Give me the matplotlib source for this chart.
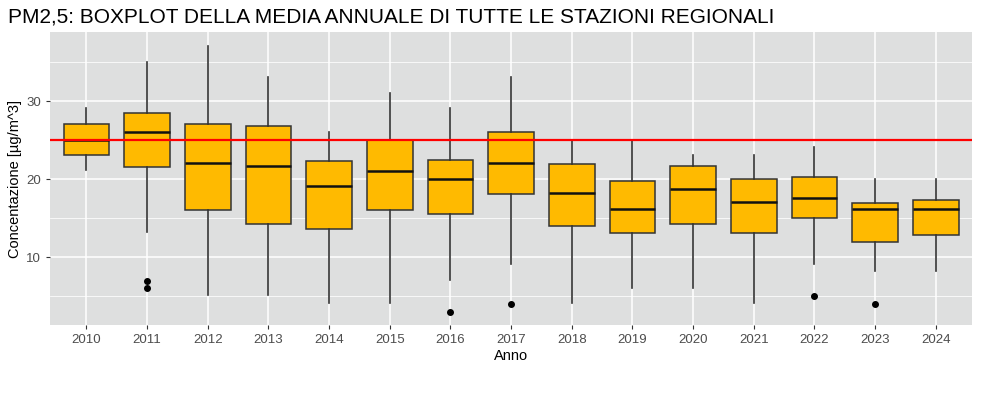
import matplotlib
matplotlib.use("Agg")
import matplotlib.pyplot as plt
import numpy as np

plt.rcParams['font.family'] = ['Liberation Sans', 'DejaVu Sans']

# statistiche dei boxplot
anni = ['2010', '2011', '2012', '2013', '2014', '2015', '2016', '2017',
        '2018', '2019', '2020', '2021', '2022', '2023', '2024']
whislo = [21.2, 13.2, 5.1, 5.1, 4.1, 4.1, 7.1, 9.1, 4.1, 6.1, 6.1, 4.1, 9.1, 8.2, 8.2]
q1 = [23.1, 21.6, 16.1, 14.3, 13.6, 16.1, 15.6, 18.1, 14.0, 13.1, 14.3, 13.1, 15.0, 12.0, 12.8]
mediana = [25.0, 26.1, 22.1, 21.7, 19.1, 21.1, 20.1, 22.1, 18.2, 16.2, 18.7, 17.1, 17.6, 16.2, 16.2]
q3 = [27.1, 28.5, 27.1, 26.9, 22.3, 25.1, 22.5, 26.1, 22.0, 19.8, 21.7, 20.0, 20.3, 17.0, 17.3]
whishi = [29.1, 35.1, 37.1, 33.1, 26.1, 31.1, 29.1, 33.1, 25.1, 25.1, 23.1, 23.1, 24.1, 20.0, 20.0]
outliers = [[], [7.0, 6.0], [], [], [], [], [3.0], [4.0], [], [], [], [], [5.0], [4.0], []]
limite = 25

stats = []
for i in range(len(anni)):
    stats.append(dict(med=mediana[i], q1=q1[i], q3=q3[i],
                      whislo=whislo[i], whishi=whishi[i], fliers=outliers[i]))

fig = plt.figure(figsize=(9.81, 3.95), dpi=100)
ax = fig.add_axes([0.051, 0.177, 0.940, 0.742])
ax.set_facecolor('#DEDFDF')

pos = np.arange(1, len(anni) + 1)
ax.bxp(stats, positions=pos, widths=0.75, patch_artist=True, showcaps=False,
       boxprops=dict(facecolor='#FFBA00', edgecolor='#333333', linewidth=1.1),
       medianprops=dict(color='#111111', linewidth=1.8),
       whiskerprops=dict(color='#333333', linewidth=1.2),
       flierprops=dict(marker='o', markerfacecolor='black', markeredgecolor='black',
                       markersize=4),
       zorder=3)

ax.axhline(limite, color='#FF0000', linewidth=1.6, zorder=4)

ax.set_xlim(0.4, len(anni) + 0.6)
ax.set_ylim(1.3, 38.9)
ax.set_xticks(pos)
ax.set_xticklabels(anni)
ax.set_yticks([10, 20, 30])
ax.set_yticks([5, 15, 25, 35], minor=True)

ax.grid(True, which='major', color='white', linewidth=1.1, zorder=0)
ax.grid(True, which='minor', axis='y', color='white', linewidth=0.55, zorder=0)
ax.set_axisbelow(True)
for s in ax.spines.values():
    s.set_visible(False)

ax.tick_params(axis='both', which='major', colors='#333333', labelcolor='#4D4D4D',
               labelsize=9.5, length=3, width=0.8)
ax.tick_params(axis='y', which='minor', length=0)

ax.set_xlabel('Anno', fontsize=10.5, labelpad=2)
ax.set_ylabel('Concentazione [µg/m^3]', fontsize=10.5, labelpad=3)

fig.text(0.008, 0.942, 'PM2,5: BOXPLOT DELLA MEDIA ANNUALE DI TUTTE LE STAZIONI REGIONALI',
         fontsize=15, ha='left', va='baseline')

fig.savefig('out.png', dpi=100)
